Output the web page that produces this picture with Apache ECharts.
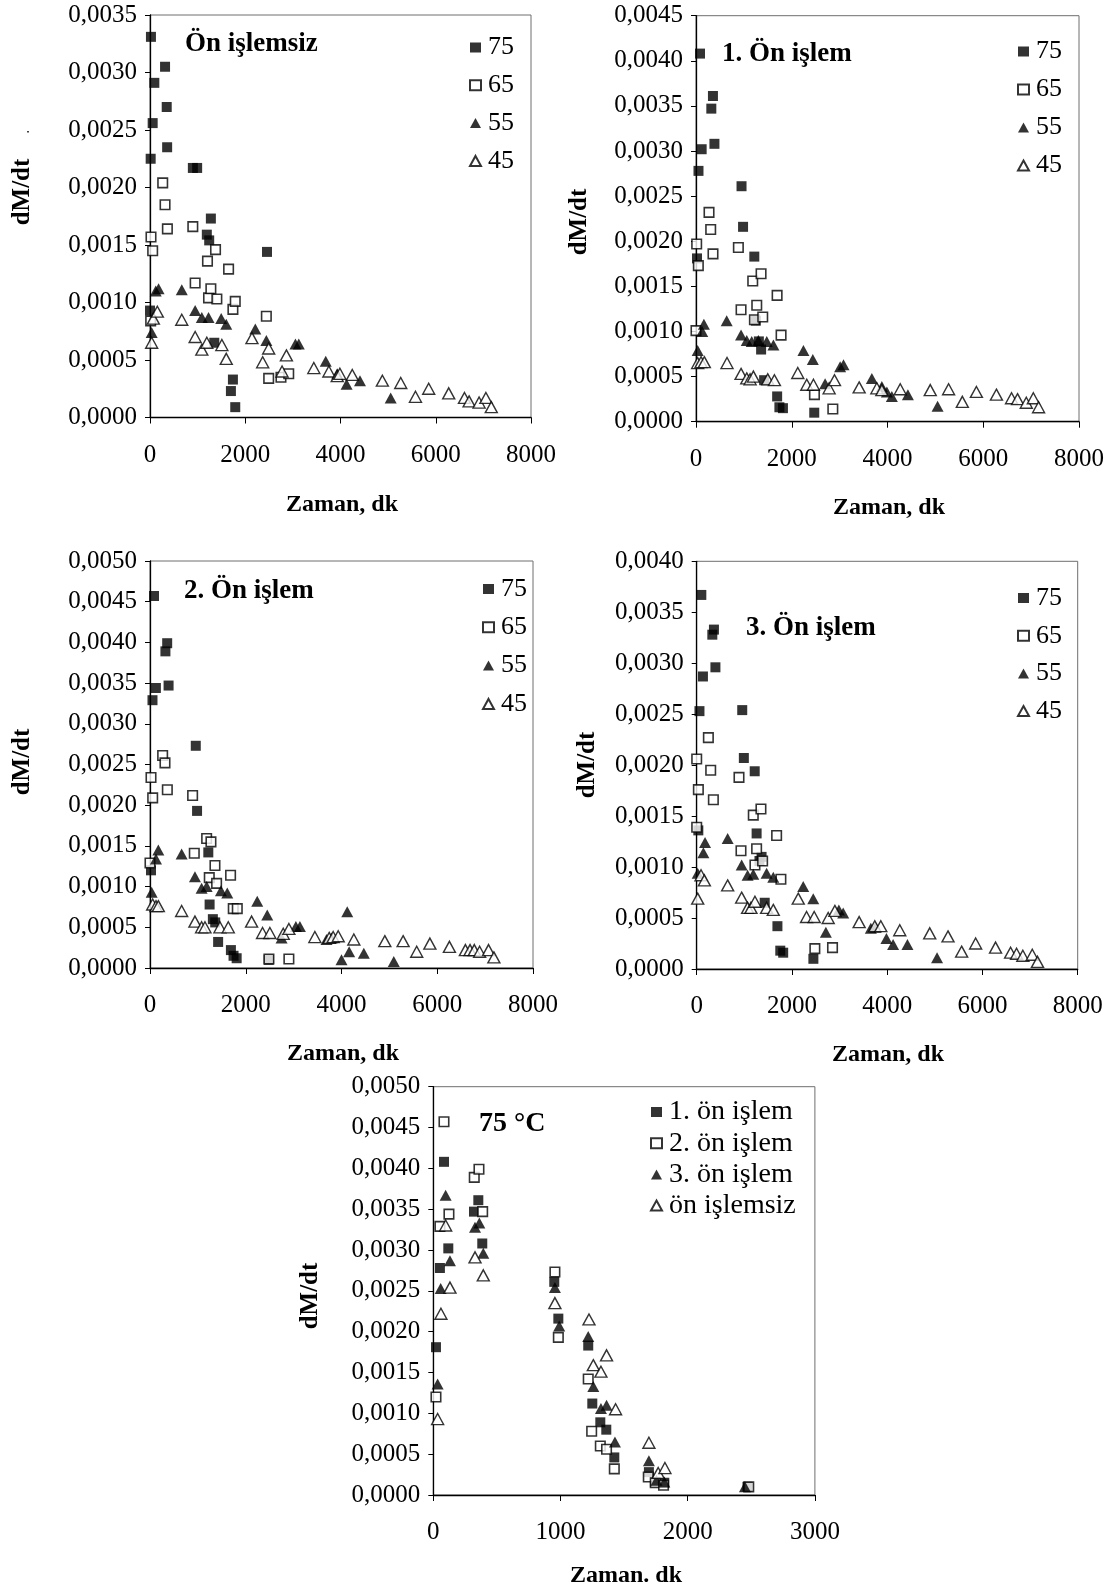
<!DOCTYPE html>
<html>
<head>
<meta charset="utf-8">
<script src="https://cdn.jsdelivr.net/npm/echarts@6/dist/echarts.min.js"></script>
<style>
  html, body { margin: 0; padding: 0; background: #fff; }
  #chart { width: 1111px; height: 1595px; }
</style>
</head>
<body>
<div id="chart"></div>
<script>
// dM/dt drying-rate data, [time (dk), dM/dt] pairs, per pretreatment and temperature.

// Ön işlemsiz
const onislemsiz_75 = [[0,0.00093],[14,0.00225],[20,0.00331],[56,0.00256],[91,0.00291],[316,0.00305],[351,0.0027],[360,0.00235],[900,0.00217],[990,0.00217],[1193,0.00159],[1243,0.00154],[1278,0.00173],[1350,0.00065],[1699,0.00023],[1741,0.00033],[1790,0.00009],[2457,0.00144]];
const onislemsiz_65 = [[14,0.00084],[21,0.00157],[56,0.00145],[267,0.00204],[316,0.00185],[365,0.00164],[899,0.00166],[948,0.00117],[1207,0.00136],[1229,0.00104],[1278,0.00112],[1376,0.00146],[1404,0.00103],[1650,0.00129],[1741,0.00094],[1790,0.00101],[2443,0.00088],[2492,0.00034],[2750,0.00035],[2913,0.00038]];
const onislemsiz_55 = [[35,0.00074],[120,0.0011],[180,0.00112],[667,0.00111],[948,0.00093],[1088,0.00087],[1229,0.00087],[1495,0.00086],[1601,0.00081],[2211,0.00077],[2443,0.00067],[3054,0.00064],[3124,0.00064],[3690,0.00049],[3931,0.00038],[4128,0.00029],[4409,0.00032],[5054,0.00017]];
const onislemsiz_45 = [[35,0.00065],[70,0.00086],[154,0.00092],[667,0.00085],[948,0.0007],[1088,0.00059],[1193,0.00065],[1509,0.00063],[1601,0.00051],[2141,0.00069],[2366,0.00048],[2492,0.0006],[2773,0.0004],[2864,0.00054],[3440,0.00043],[3756,0.0004],[3931,0.00036],[3987,0.00038],[4247,0.00037],[4879,0.00032],[5265,0.0003],[5574,0.00018],[5852,0.00025],[6272,0.00021],[6603,0.00017],[6700,0.00014],[6910,0.00013],[7053,0.00017],[7166,0.00009]];

// 1. Ön işlem
const onislem1_75 = [[21,0.00181],[52,0.00278],[84,0.00408],[118,0.00302],[320,0.00347],[354,0.00361],[385,0.00308],[951,0.00261],[983,0.00216],[1218,0.00183],[1250,0.00112],[1313,0.00089],[1360,0.0008],[1423,0.00046],[1695,0.00028],[1742,0.00016],[1816,0.00015],[2470,0.0001]];
const onislem1_65 = [[0,0.00101],[14,0.00197],[49,0.00173],[272,0.00232],[307,0.00213],[355,0.00186],[885,0.00193],[941,0.00124],[1185,0.00156],[1220,0.00113],[1269,0.00129],[1359,0.00164],[1394,0.00116],[1694,0.0014],[1777,0.00096],[2474,0.0003],[2858,0.00014]];
const onislem1_55 = [[35,0.00079],[130,0.001],[165,0.00108],[641,0.00112],[941,0.00096],[1060,0.0009],[1164,0.00089],[1303,0.0009],[1478,0.00089],[1617,0.00085],[2244,0.00079],[2440,0.00069],[2697,0.00042],[3011,0.00061],[3081,0.00063],[3673,0.00048],[3882,0.00039],[3987,0.00033],[4091,0.00028],[4426,0.0003],[5046,0.00017]];
const onislem1_45 = [[35,0.00065],[105,0.00066],[174,0.00066],[648,0.00065],[941,0.00053],[1060,0.00048],[1130,0.00047],[1199,0.0005],[1499,0.00047],[1638,0.00046],[2126,0.00054],[2314,0.00041],[2453,0.00041],[2781,0.00037],[2893,0.00046],[3408,0.00038],[3778,0.00037],[3882,0.00035],[4266,0.00036],[4893,0.00035],[5276,0.00036],[5563,0.00022],[5857,0.00033],[6275,0.0003],[6591,0.00026],[6716,0.00025],[6899,0.00021],[7046,0.00026],[7156,0.00016]];

// 2. Ön işlem
const onislem2_75 = [[21,0.0012],[52,0.00329],[84,0.00457],[123,0.00344],[322,0.00389],[359,0.00399],[388,0.00347],[956,0.00273],[983,0.00193],[1218,0.00142],[1245,0.00078],[1313,0.0006],[1362,0.00056],[1423,0.00032],[1690,0.00022],[1745,0.00015],[1810,0.00012],[2480,0.0001]];
const onislem2_65 = [[0,0.00129],[21,0.00234],[56,0.00209],[264,0.00261],[313,0.00252],[362,0.00219],[890,0.00212],[925,0.00141],[1183,0.00159],[1238,0.00111],[1273,0.00155],[1357,0.00126],[1391,0.00104],[1683,0.00114],[1739,0.00073],[1823,0.00073],[2484,0.00011],[2901,0.00011]];
const onislem2_55 = [[35,0.00093],[125,0.00134],[174,0.00145],[661,0.0014],[939,0.00112],[1078,0.00098],[1183,0.001],[1482,0.00095],[1614,0.00092],[2240,0.00082],[2449,0.00065],[2748,0.00037],[3047,0.00051],[3131,0.00051],[3687,0.00035],[3792,0.00037],[4000,0.0001],[4120,0.00069],[4160,0.0002],[4466,0.00018],[5092,0.00008]];
const onislem2_45 = [[56,0.00078],[125,0.00076],[174,0.00076],[661,0.0007],[939,0.00057],[1078,0.0005],[1148,0.0005],[1461,0.0005],[1635,0.0005],[2122,0.00057],[2351,0.00043],[2504,0.00043],[2783,0.00042],[2901,0.00048],[3444,0.00038],[3743,0.00037],[3826,0.00038],[3931,0.00039],[4258,0.00035],[4905,0.00033],[5287,0.00033],[5571,0.0002],[5846,0.0003],[6254,0.00026],[6588,0.00022],[6685,0.00022],[6774,0.00022],[6885,0.0002],[7071,0.00022],[7183,0.00013]];

// 3. Ön işlem
const onislem3_75 = [[34,0.00136],[58,0.00253],[97,0.00367],[131,0.00287],[328,0.00328],[362,0.00333],[393,0.00296],[956,0.00254],[990,0.00207],[1218,0.00194],[1258,0.00133],[1318,0.00106],[1362,0.0011],[1428,0.00065],[1695,0.00042],[1755,0.00018],[1816,0.00016],[2450,0.0001]];
const onislem3_65 = [[0,0.00206],[0,0.00139],[35,0.00176],[245,0.00227],[294,0.00195],[350,0.00166],[888,0.00188],[930,0.00116],[1188,0.00151],[1223,0.00102],[1258,0.00118],[1349,0.00157],[1384,0.00106],[1678,0.00131],[1768,0.00088],[2481,0.0002],[2852,0.00021]];
const onislem3_55 = [[21,0.00094],[140,0.00114],[175,0.00124],[650,0.00128],[944,0.00102],[1069,0.00092],[1188,0.00093],[1468,0.00094],[1608,0.0009],[2237,0.00081],[2447,0.00069],[2712,0.00036],[2985,0.00058],[3076,0.00055],[3656,0.0004],[3754,0.00041],[3984,0.0003],[4124,0.00024],[4425,0.00024],[5047,0.00011]];
const onislem3_45 = [[21,0.00069],[91,0.00092],[161,0.00087],[650,0.00082],[944,0.0007],[1069,0.0006],[1139,0.0006],[1223,0.00066],[1468,0.0006],[1608,0.00058],[2132,0.00069],[2307,0.00051],[2467,0.00051],[2761,0.0005],[2901,0.00057],[3411,0.00046],[3740,0.00042],[3866,0.00042],[4264,0.00038],[4893,0.00035],[5277,0.00032],[5563,0.00017],[5857,0.00025],[6275,0.00021],[6591,0.00016],[6716,0.00015],[6848,0.00013],[7046,0.00014],[7156,0.00007]];

// 75 °C comparison, untreated run
const detay75_onislemsiz = [[34,0.00093],[60,0.00222],[97,0.0033],[131,0.00254],[328,0.00291],[393,0.00269],[956,0.00235],[1224,0.00215],[1258,0.00159],[1318,0.00151],[1362,0.00171],[1433,0.00105],[1695,0.00064],[1768,0.00027],[1821,0.00033]];

const sicakliklar = ['75', '65', '55', '45'];
const karsilastirmaAdlari = ['1. ön işlem', '2. ön işlem', '3. ön işlem', 'ön işlemsiz'];
const panelBasliklari = ['Ön işlemsiz', '1. Ön işlem', '2. Ön işlem', '3. Ön işlem', '75 °C'];
const yMaks = [0.0035, 0.0045, 0.005, 0.004, 0.005];
const xMaks = [8000, 8000, 8000, 8000, 3000];
const xAralik = [2000, 2000, 2000, 2000, 1000];

const FONT = "'Liberation Serif', 'Times New Roman', serif";

const markers = [
  { symbol: 'rect', symbolSize: 10, itemStyle: { color: '#000' } },
  { symbol: 'rect', symbolSize: 9.5, itemStyle: { color: '#fff', borderColor: '#000', borderWidth: 1.6 } },
  { symbol: 'triangle', symbolSize: [12, 11], itemStyle: { color: '#000' } },
  { symbol: 'triangle', symbolSize: [12, 11], itemStyle: { color: '#fff', borderColor: '#000', borderWidth: 1.4 } }
];

const grids = [
  { left: 150,   top: 15,    width: 381,   height: 402.5 },
  { left: 696,   top: 15.7,  width: 383,   height: 406 },
  { left: 150,   top: 561,   width: 383,   height: 407 },
  { left: 696.7, top: 561.3, width: 381,   height: 407.7 },
  { left: 433.3, top: 1086.7, width: 381.6, height: 408.3 }
].map(g => Object.assign({ show: true, borderColor: '#6e6e6e', borderWidth: 1, backgroundColor: 'transparent' }, g));

const labelStyle = { fontFamily: FONT, fontSize: 25, color: '#000' };

const xAxes = grids.map((g, i) => ({
  type: 'value', gridIndex: i, min: 0, max: xMaks[i], interval: xAralik[i],
  splitLine: { show: false },
  axisLine: { onZero: false, lineStyle: { color: '#000', width: 1.3 } },
  axisTick: { inside: false, length: 6, lineStyle: { color: '#000' } },
  axisLabel: Object.assign({ margin: 25, formatter: v => String(v) }, labelStyle)
}));

const yAxes = grids.map((g, i) => ({
  type: 'value', gridIndex: i, min: 0, max: yMaks[i], interval: 0.0005,
  splitLine: { show: false },
  axisLine: { show: true, onZero: false, lineStyle: { color: '#000', width: 1.3 } },
  axisTick: { show: true, inside: false, length: 5, lineStyle: { color: '#000' } },
  axisLabel: Object.assign({ margin: 13, formatter: v => v.toFixed(4).replace('.', ',') }, labelStyle)
}));

function scatter(name, data, m, gi) {
  return Object.assign({
    type: 'scatter', name: name, data: data,
    xAxisIndex: gi, yAxisIndex: gi, clip: false, silent: true
  }, JSON.parse(JSON.stringify(m)));
}

const panelData = [
  [onislemsiz_75, onislemsiz_65, onislemsiz_55, onislemsiz_45],
  [onislem1_75, onislem1_65, onislem1_55, onislem1_45],
  [onislem2_75, onislem2_65, onislem2_55, onislem2_45],
  [onislem3_75, onislem3_65, onislem3_55, onislem3_45]
];

const series = [];
panelData.forEach((set, gi) => {
  set.forEach((d, k) => series.push(scatter(sicakliklar[k], d, markers[k], gi)));
});
[onislem1_75, onislem2_75, onislem3_75, detay75_onislemsiz].forEach((d, k) => {
  series.push(scatter(karsilastirmaAdlari[k], d, markers[k], 4));
});

// Legend boxes: left edge of marker, top of first row, row gap
const legendPos = [
  { left: 469,  top: 34.5,  gap: 11.8, size: 26, names: sicakliklar },
  { left: 1017, top: 38.5,  gap: 12.0, size: 26, names: sicakliklar },
  { left: 482,  top: 576,   gap: 12.3, size: 26, names: sicakliklar },
  { left: 1017, top: 585,   gap: 11.7, size: 26, names: sicakliklar },
  { left: 650,  top: 1098,  gap: 3.2,  size: 28, names: karsilastirmaAdlari }
];
const legends = legendPos.map(p => ({
  orient: 'vertical', left: p.left, top: p.top, padding: 0,
  itemWidth: 11, itemHeight: 10, itemGap: p.gap,
  selectedMode: false, data: p.names,
  textStyle: { fontFamily: FONT, fontSize: p.size, color: '#000', lineHeight: 24, padding: [0, 0, 0, 2] }
}));

function txt(x, y, text, size, bold, rot, align) {
  return {
    type: 'text', x: x, y: y, rotation: rot || 0, silent: true,
    style: { text: text, fill: '#000', font: (bold ? 'bold ' : '') + size + 'px ' + FONT,
             textAlign: align || 'center', textVerticalAlign: 'middle' }
  };
}

const graphic = [
  txt(185, 44, panelBasliklari[0], 27, true, 0, 'left'),
  txt(722, 54, panelBasliklari[1], 27, true, 0, 'left'),
  txt(184, 591, panelBasliklari[2], 27, true, 0, 'left'),
  txt(746, 628, panelBasliklari[3], 27, true, 0, 'left'),
  txt(479, 1124, panelBasliklari[4], 28, true, 0, 'left'),
  txt(342, 505, 'Zaman, dk', 24, true),
  txt(889, 508, 'Zaman, dk', 24, true),
  txt(343, 1054, 'Zaman, dk', 24, true),
  txt(888, 1055, 'Zaman, dk', 24, true),
  txt(626, 1576, 'Zaman. dk', 24, true),
  txt(23, 192, 'dM/dt', 25, true, Math.PI / 2),
  txt(580, 222, 'dM/dt', 25, true, Math.PI / 2),
  txt(23, 762, 'dM/dt', 25, true, Math.PI / 2),
  txt(588, 765, 'dM/dt', 25, true, Math.PI / 2),
  txt(311, 1296, 'dM/dt', 25, true, Math.PI / 2),
  { type: 'rect', silent: true, shape: { x: 27, y: 131, width: 2, height: 1.5 }, style: { fill: '#444' } }
];

const chart = echarts.init(document.getElementById('chart'), null, { renderer: 'canvas' });
chart.setOption({
  backgroundColor: '#fff',
  animation: false,
  grid: grids,
  xAxis: xAxes,
  yAxis: yAxes,
  legend: legends,
  series: series,
  graphic: graphic
});
</script>
</body>
</html>
